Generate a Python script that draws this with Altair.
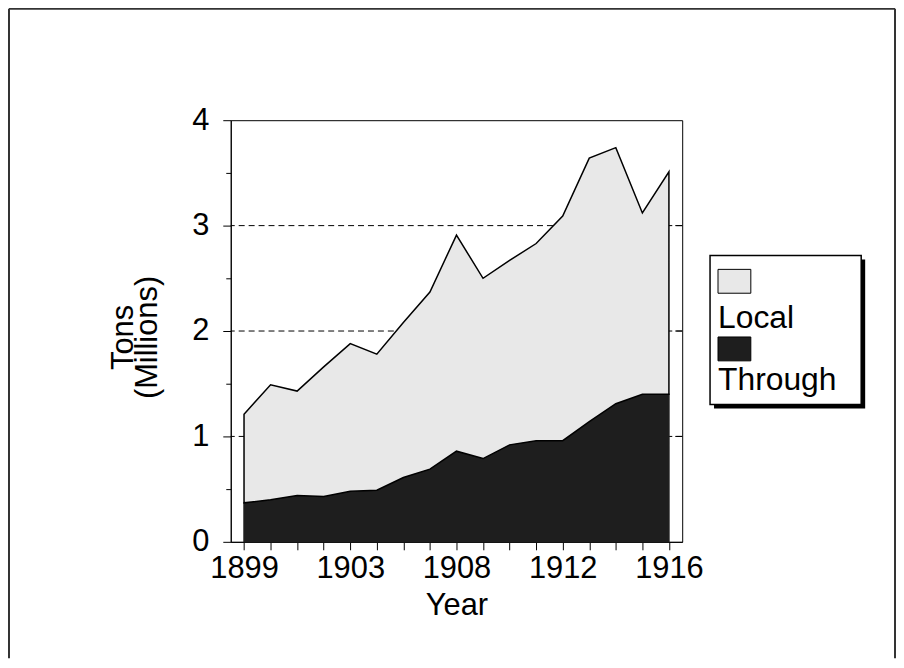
import altair as alt
import pandas as pd

# ---- data ----
years = ["1899", "1900", "1901", "1902", "1903", "1904", "1905", "1906", "1908",
         "1909", "1910", "1911", "1912", "1913", "1914", "1915", "1916"]
shown_years = ["1899", "1903", "1908", "1912", "1916"]
through = [0.37, 0.40, 0.44, 0.43, 0.48, 0.49, 0.61, 0.69, 0.86,
           0.79, 0.92, 0.96, 0.96, 1.14, 1.31, 1.40, 1.40]
local = [0.84, 1.09, 0.99, 1.23, 1.40, 1.29, 1.47, 1.68, 2.05,
         1.71, 1.75, 1.87, 2.13, 2.50, 2.43, 1.72, 2.11]
series = ["Local", "Through"]
fills = ["#e8e8e8", "#1e1e1e"]
strokes = ["#000000", "#1e1e1e"]
y_ticks = [0, 0.5, 1, 1.5, 2, 2.5, 3, 3.5, 4]
grid_values = [1, 2, 3]

FONT = "Liberation Sans"
W, H = 454, 424

rows = []
for i, yr in enumerate(years):
    rows.append({"year": yr, "series": "Through", "tons": through[i], "ord": 0})
    rows.append({"year": yr, "series": "Local", "tons": local[i], "ord": 1})
df = pd.DataFrame(rows)
grid_df = pd.DataFrame({"v": grid_values})
one = pd.DataFrame({"k": [0]})

shown_js = "[" + ",".join("'%s'" % s for s in shown_years) + "]"

x_enc = alt.X(
    "year:O",
    sort=years,
    scale=alt.Scale(type="point", padding=0.5, domain=years),
    axis=alt.Axis(
        title="Year",
        labelExpr="indexof(%s, datum.value) >= 0 ? datum.value : ''" % shown_js,
        labelAngle=0,
        labelOverlap=False,
        labelFont=FONT, labelFontSize=31, labelColor="black", labelPadding=4,
        titleFont=FONT, titleFontSize=31, titleFontWeight="normal", titleColor="black",
        titlePadding=7,
        tickSize=8, tickColor="black", domainColor="black", grid=False,
    ),
)

y_scale = alt.Scale(domain=[0, 4], nice=False, zero=True)
y_axis = alt.Axis(
    title=["Tons", "(Millions)"],
    values=y_ticks,
    labelExpr="datum.value % 1 === 0 ? format(datum.value, 'd') : ''",
    labelFont=FONT, labelFontSize=31, labelColor="black", labelPadding=14,
    titleFont=FONT, titleFontSize=31, titleFontWeight="normal", titleColor="black",
    titleLineHeight=25, titlePadding=28, titleY=218,
    tickSize={"condition": {"test": "datum.value % 1 === 0", "value": 8}, "value": 5},
    tickColor="black", domainColor="black", grid=False,
)

grid = alt.Chart(grid_df).mark_rule(color="black", strokeWidth=1, strokeDash=[6, 4]).encode(
    y=alt.Y("v:Q", scale=y_scale, axis=y_axis)
)

area = alt.Chart(df).mark_area(opacity=1, strokeWidth=1.5, strokeJoin="miter").encode(
    x=x_enc,
    y=alt.Y("tons:Q", stack="zero", scale=y_scale, axis=y_axis),
    color=alt.Color("series:N", scale=alt.Scale(domain=series, range=fills), legend=None),
    stroke=alt.Stroke("series:N", scale=alt.Scale(domain=series, range=strokes), legend=None),
    order=alt.Order("ord:Q"),
)

right_ticks = alt.Chart(grid_df).mark_rule(color="black", strokeWidth=1).encode(
    y=alt.Y("v:Q", scale=y_scale, axis=y_axis),
    x=alt.value(W - 7), x2=alt.value(W),
)

# ---- custom legend (swatch above label, boxed, with drop shadow) ----
lx0, ly0, lw, lh = 482, 136, 152, 150
shadow = alt.Chart(one).mark_rect(fill="black").encode(
    x=alt.value(lx0 + 4), x2=alt.value(lx0 + lw + 4),
    y=alt.value(ly0 + 4), y2=alt.value(ly0 + lh + 4),
)
box = alt.Chart(one).mark_rect(fill="white", stroke="black", strokeWidth=1.5).encode(
    x=alt.value(lx0), x2=alt.value(lx0 + lw),
    y=alt.value(ly0), y2=alt.value(ly0 + lh),
)
legend_layers = [shadow, box]
sw_top = [150, 218]
txt_base = [209, 271]
for i, name in enumerate(series):
    ldf = pd.DataFrame({"series": [name]})
    legend_layers.append(
        alt.Chart(ldf).mark_rect(fill=fills[i], stroke="black", strokeWidth=1).encode(
            x=alt.value(490), x2=alt.value(523),
            y=alt.value(sw_top[i]), y2=alt.value(sw_top[i] + 24),
        )
    )
    legend_layers.append(
        alt.Chart(ldf).mark_text(align="left", baseline="alphabetic", font=FONT,
                                 fontSize=32, color="black").encode(
            text="series:N", x=alt.value(490), y=alt.value(txt_base[i]),
        )
    )

# ---- outer frame (left, top, right edges) ----
fl, ft, fr, fb = -223, -112, 668, 541
frame = [
    alt.Chart(one).mark_rule(color="#333", strokeWidth=2).encode(
        x=alt.value(fl), y=alt.value(ft), y2=alt.value(fb)),
    alt.Chart(one).mark_rule(color="#333", strokeWidth=2).encode(
        x=alt.value(fr), y=alt.value(ft), y2=alt.value(fb)),
    alt.Chart(one).mark_rule(color="#333", strokeWidth=2).encode(
        x=alt.value(fl), x2=alt.value(fr), y=alt.value(ft)),
]

chart = alt.layer(grid, area, right_ticks, *legend_layers, *frame).properties(
    width=W, height=H,
    autosize=alt.AutoSizeParams(type="none"),
    padding={"left": 224, "top": 111, "right": 215, "bottom": 117},
    background="white",
).configure_view(stroke="black", strokeWidth=1)

chart.save("out.html", embed_options={"renderer": "svg", "actions": False})
